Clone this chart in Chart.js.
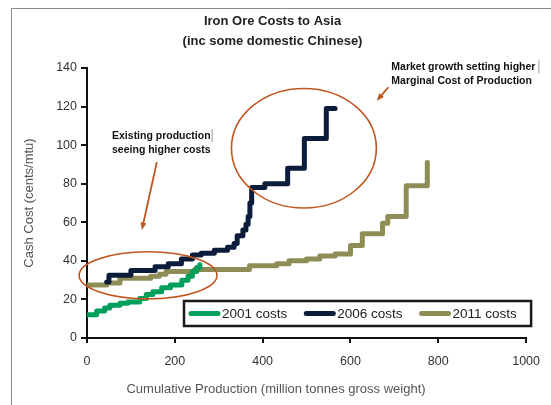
<!DOCTYPE html>
<html>
<head>
<meta charset="utf-8">
<title>Iron Ore Costs to Asia</title>
<script src="https://cdn.jsdelivr.net/npm/chart.js@4.4.1/dist/chart.umd.min.js"></script>
<style>
  html, body { margin: 0; padding: 0; background: #fff; }
  #wrap { width: 551px; height: 405px; position: relative; }
</style>
</head>
<body>
<div id="wrap"><canvas id="cost-chart" width="551" height="405"></canvas></div>
<script>
// cost curves: x = cumulative production where a cost level starts, y = cash cost
const prod2001 = [0, 22, 40, 52, 75, 93, 120, 135, 150, 170, 190, 216, 230, 240, 250, 257];
const cost2001 = [12, 14, 15.5, 17, 18, 18.7, 20.5, 22.5, 24, 26, 27.5, 30, 32, 34.5, 36.5, 38];

const prod2006 = [45, 50, 100, 155, 185, 215, 240, 260, 290, 320, 335, 342, 355, 362, 367, 371, 375, 405, 457, 495, 545, 565];
const cost2006 = [29, 32.5, 35, 37, 38.5, 41, 43, 44, 45.5, 47, 49, 53, 56, 59, 63, 70, 78, 80, 88, 103.5, 119, 119];

const prod2011 = [0, 45, 75, 145, 165, 180, 245, 370, 432, 460, 500, 530, 565, 600, 627, 673, 685, 727, 775];
const cost2011 = [27.5, 28.5, 31, 32, 33, 34.5, 35.5, 37.5, 38.5, 40, 41, 42.5, 43.5, 48, 54, 59.5, 63, 79, 91];

const seriesLabels = ['2001 costs', '2006 costs', '2011 costs'];
const xTickValues = [0, 200, 400, 600, 800, 1000];
const yTickValues = [0, 20, 40, 60, 80, 100, 120, 140];

const lineColors = ['#00a05c', '#0b1d3a', '#8f8d56'];
const noteColor = '#c0561f';
const fontFamily = '"Liberation Sans", Arial, Helvetica, sans-serif';

Chart.defaults.font.family = fontFamily;

function toPoints(xs, ys) {
    return xs.map((x, i) => ({ x: x, y: ys[i] }));
}

function makeDataset(label, xs, ys, color) {
    return {
        label: label,
        data: toPoints(xs, ys),
        borderColor: color,
        backgroundColor: color,
        borderWidth: 5,
        stepped: 'before',
        pointRadius: 0,
        borderCapStyle: 'round',
        borderJoinStyle: 'round',
        fill: false
    };
}

function drawArrow(ctx, x1, y1, x2, y2) {
    const ang = Math.atan2(y2 - y1, x2 - x1);
    const head = 8;
    ctx.beginPath();
    ctx.moveTo(x1, y1);
    ctx.lineTo(x2 - Math.cos(ang) * head * 0.6, y2 - Math.sin(ang) * head * 0.6);
    ctx.stroke();
    ctx.beginPath();
    ctx.moveTo(x2, y2);
    ctx.lineTo(x2 - head * Math.cos(ang - 0.38), y2 - head * Math.sin(ang - 0.38));
    ctx.lineTo(x2 - head * Math.cos(ang + 0.38), y2 - head * Math.sin(ang + 0.38));
    ctx.closePath();
    ctx.fill();
}

// frame, circled areas, notes, x title and the boxed legend
const decorPlugin = {
    id: 'decor',
    beforeDraw(chart) {
        const ctx = chart.ctx;
        ctx.save();
        ctx.strokeStyle = '#8a8a8a';
        ctx.lineWidth = 1;
        ctx.beginPath();
        ctx.moveTo(11.5, 405);
        ctx.lineTo(11.5, 8.5);
        ctx.lineTo(551, 8.5);
        ctx.stroke();
        ctx.restore();
    },
    afterDatasetsDraw(chart) {
        const ctx = chart.ctx;
        const xs = chart.scales.x;
        const ys = chart.scales.y;
        const area = chart.chartArea;
        const px = v => xs.getPixelForValue(v);
        const py = v => ys.getPixelForValue(v);

        ctx.save();
        // ellipses
        ctx.strokeStyle = noteColor;
        ctx.fillStyle = noteColor;
        ctx.lineWidth = 1.6;
        [[139, 32.5, 157, 12.2], [494, 98.4, 165, 31]].forEach(e => {
            const cx = px(e[0]), cy = py(e[1]);
            const rx = px(e[0] + e[2]) - cx, ry = cy - py(e[1] + e[3]);
            ctx.beginPath();
            ctx.ellipse(cx, cy, rx, ry, 0, 0, Math.PI * 2);
            ctx.stroke();
        });

        // arrows
        ctx.lineWidth = 1.8;
        drawArrow(ctx, px(159), py(91.2), px(125), py(56));
        drawArrow(ctx, px(686), py(130), px(660), py(123));

        // notes
        ctx.fillStyle = '#111';
        ctx.font = 'bold 10.5px ' + fontFamily;
        ctx.textAlign = 'left';
        ctx.textBaseline = 'middle';
        ctx.fillText('Existing production', px(57), py(104.7));
        ctx.fillText('seeing higher costs', px(57), py(97.5));
        ctx.fillText('Market growth setting higher', px(693), py(140.4));
        ctx.fillText('Marginal Cost of Production', px(693), py(133.2));
        ctx.fillStyle = '#999';
        ctx.fillRect(px(57) + ctx.measureText('Existing production').width + 1, py(104.7) - 7, 1, 13);
        ctx.fillRect(px(693) + ctx.measureText('Market growth setting higher').width + 3, py(140.4) - 7, 1, 13);

        // x axis title
        ctx.fillStyle = '#555';
        ctx.font = '13px ' + fontFamily;
        ctx.textAlign = 'center';
        ctx.fillText('Cumulative Production (million tonnes gross weight)', 276, 389);

        // legend box
        const boxL = 184, boxR = area.right + 5, boxT = 301, boxB = 326;
        ctx.fillStyle = '#fff';
        ctx.fillRect(boxL, boxT, boxR - boxL, boxB - boxT);
        ctx.strokeStyle = '#1a1a1a';
        ctx.lineWidth = 2.5;
        ctx.strokeRect(boxL, boxT, boxR - boxL, boxB - boxT);
        ctx.font = '13.5px ' + fontFamily;
        ctx.textAlign = 'left';
        let lx = boxL + 5;
        const ly = (boxT + boxB) / 2;
        chart.data.datasets.forEach(ds => {
            ctx.strokeStyle = ds.borderColor;
            ctx.lineWidth = 5;
            ctx.lineCap = 'round';
            ctx.beginPath();
            ctx.moveTo(lx + 2, ly);
            ctx.lineTo(lx + 29, ly);
            ctx.stroke();
            ctx.fillStyle = '#222';
            ctx.fillText(ds.label, lx + 33, ly + 1);
            lx += 33 + ctx.measureText(ds.label).width + 17;
        });
        ctx.restore();
    }
};

const chartData = {
    datasets: [
        makeDataset(seriesLabels[0], prod2001, cost2001, lineColors[0]),
        makeDataset(seriesLabels[1], prod2006, cost2006, lineColors[1]),
        makeDataset(seriesLabels[2], prod2011, cost2011, lineColors[2])
    ]
};

const axisLine = { display: true, color: '#111', width: 2 };

new Chart(document.getElementById('cost-chart'), {
    type: 'line',
    data: chartData,
    plugins: [decorPlugin],
    options: {
        responsive: false,
        animation: false,
        layout: { padding: { left: 18, right: 24, top: 0, bottom: 0 } },
        plugins: {
            legend: { display: false },
            tooltip: { enabled: false },
            title: {
                display: true,
                text: ['Iron Ore Costs to Asia', '(inc some domestic Chinese)'],
                color: '#222',
                font: { size: 13, weight: 'bold', lineHeight: 1.5 },
                padding: { top: 12, bottom: 17 }
            }
        },
        scales: {
            x: {
                type: 'linear',
                min: 0,
                max: 1000,
                afterBuildTicks: scale => { scale.ticks = xTickValues.map(v => ({ value: v })); },
                afterFit: scale => { scale.height = 67; },
                border: axisLine,
                grid: { drawOnChartArea: false, drawTicks: true, tickLength: 5, color: '#111', lineWidth: 2 },
                ticks: { color: '#333', font: { size: 12.5 }, padding: 11, maxRotation: 0, callback: v => String(v) }
            },
            y: {
                min: 0,
                max: 140,
                afterBuildTicks: scale => { scale.ticks = yTickValues.map(v => ({ value: v })); },
                afterFit: scale => { scale.width = 69; },
                border: axisLine,
                grid: { drawOnChartArea: false, drawTicks: true, tickLength: 6, color: '#111', lineWidth: 2 },
                ticks: { color: '#333', font: { size: 12.5 }, padding: 4, callback: v => String(v) },
                title: {
                    display: true,
                    text: 'Cash Cost (cents/mtu)',
                    color: '#555',
                    font: { size: 13 },
                    padding: { top: 4, bottom: 0 }
                }
            }
        }
    }
});
</script>
</body>
</html>
